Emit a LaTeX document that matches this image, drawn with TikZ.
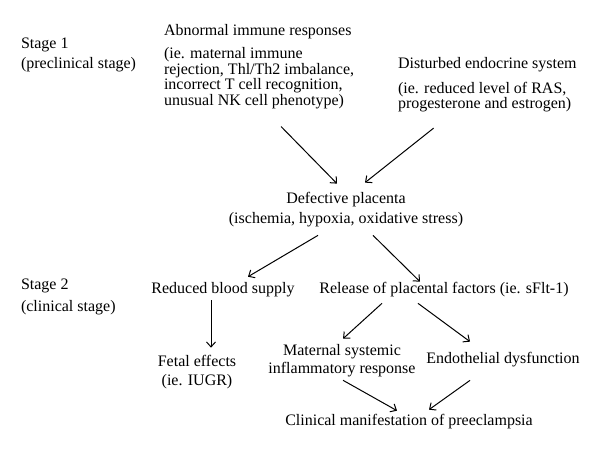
\documentclass[tikz,border=0pt]{standalone}
\usepackage{fontspec}
\setmainfont{Liberation Serif}
\usetikzlibrary{arrows.meta}

\begin{document}
\begin{tikzpicture}[
        x=1pt, y=-1pt,
        box/.style={inner sep=0pt, outer sep=0pt, align=center,
            font=\fontsize{16}{20}\selectfont},
        stagebox/.style={box, anchor=west, align=left},
        detail/.style={box, anchor=west, align=left,
            font=\fontsize{16}{14}\selectfont},
        flow/.style={->, >={Straight Barb[length=5pt,width=9pt]}, line width=1pt},
    ]
        \useasboundingbox (0,0) rectangle (600,452);

        % Stages
        \node[stagebox] (stageone) at (21, 55) {Stage 1\\(preclinical stage)};
        \node[stagebox, font=\fontsize{16}{22}\selectfont] (stagetwo) at (21, 296.5)
            {Stage 2\\(clinical stage)};

        % Causes
        \node[box, anchor=west] (immtitle) at (164, 32) {Abnormal immune responses};
        \node[detail] (immune) at (164, 78) {(ie. maternal immune\\rejection, Thl/Th2 imbalance,\\incorrect T cell recognition,\\unusual NK cell phenotype)};
        \node[box, anchor=west] (endtitle) at (398, 65) {Disturbed endocrine system};
        \node[detail] (endocrine) at (398, 97) {(ie. reduced level of RAS,\\progesterone and estrogen)};

        % Placenta and consequences
        \node[box] (placenta) at (346, 210) {Defective placenta\\(ischemia, hypoxia, oxidative stress)};
        \node[box] (blood) at (223, 290) {Reduced blood supply};
        \node[box] (release) at (444, 290) {Release of placental factors (ie. sFlt-1)};
        \node[box, font=\fontsize{16}{19}\selectfont] (fetal) at (197, 372.5) {Fetal effects\\(ie. IUGR)};
        \node[box, font=\fontsize{16}{18}\selectfont] (maternal) at (342, 361) {Maternal systemic\\inflammatory response};
        \node[box] (endo) at (503, 360) {Endothelial dysfunction};
        \node[box] (clinical) at (409, 422) {Clinical manifestation of preeclampsia};

        % Flows
        \draw[flow] ([xshift=22pt, yshift=-18pt]immune.south) -- ([xshift=-9pt, yshift=9pt]placenta.north);
        \draw[flow] ([xshift=-51pt, yshift=-16pt]endocrine.south) -- ([xshift=19pt, yshift=10pt]placenta.north);
        \draw[flow] ([xshift=-28pt, yshift=-8pt]placenta.south) -- ([xshift=25pt, yshift=6pt]blood.north);
        \draw[flow] ([xshift=27pt, yshift=-8pt]placenta.south) -- ([xshift=-24pt, yshift=1pt]release.north);
        \draw[flow] ([xshift=-12pt, yshift=-3pt]blood.south) -- ([xshift=14pt, yshift=8pt]fetal.north);
        \draw[flow] ([xshift=-62pt, yshift=-6pt]release.south) -- ([xshift=1pt, yshift=6pt]maternal.north);
        \draw[flow] ([xshift=-26pt, yshift=-6pt]release.south) -- ([xshift=-33pt, yshift=11pt]endo.north);
        \draw[flow] ([xshift=1pt, yshift=-3pt]maternal.south) -- ([xshift=-12pt, yshift=4pt]clinical.north);
        \draw[flow] ([xshift=-33pt, yshift=-13pt]endo.south) -- ([xshift=20pt, yshift=5pt]clinical.north);
    \end{tikzpicture}
\end{document}
